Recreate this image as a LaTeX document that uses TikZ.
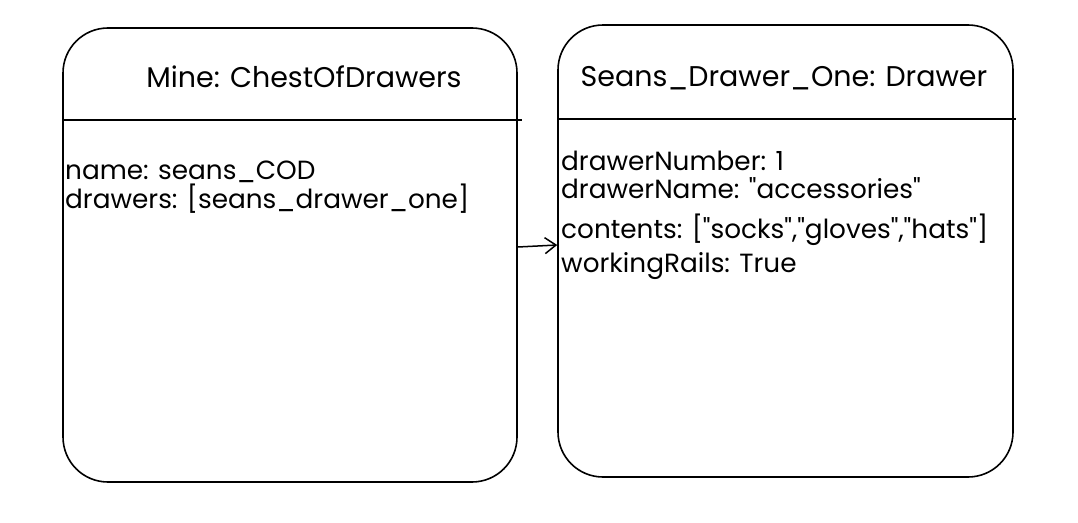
\documentclass[tikz,border=0pt]{standalone}
\usepackage{fontspec}
\newfontfamily\hand{Poppins}
\usetikzlibrary{arrows.meta}
\begin{document}
\begin{tikzpicture}[x=1pt,y=-1pt,
  box/.style={draw, line width=1.6pt, rounded corners=45pt, minimum width=#1, inner sep=0pt},
  ttl/.style={anchor=base, font=\hand\fontsize{28.5}{32}\selectfont},
  attr/.style={anchor=base west, inner sep=0pt, font=\hand\fontsize{26.3}{30}\selectfont},
  link/.style={line width=1.5pt, -{Straight Barb[length=11pt,width=16pt,line width=1.5pt]}}]
\useasboundingbox (0,0) rectangle (1078,522);
% boxes
\node[box=454pt, minimum height=454pt] (L) at (290,255) {};
\node[box=455pt, minimum height=452pt] (R) at (785.5,251) {};
% dividers
\coordinate (Ld1) at (63,120);
\coordinate (Ld2) at (522,120);
\coordinate (Rd1) at (558,119);
\coordinate (Rd2) at (1016,119);
\draw[line width=1.6pt] (Ld1) -- (Ld2);
\draw[line width=1.6pt] (Rd1) -- (Rd2);
% titles
\node[ttl] (Lt) at (304,87) {Mine: ChestOfDrawers};
\node[ttl] (Rt) at (784,86) {Seans\_Drawer\_One: Drawer};
% attributes
\node[attr] (a1) at (65,179) {name: seans\_COD};
\node[attr] (a2) at (65,208) {drawers: [seans\_drawer\_one]};
\node[attr] (b1) at (561,170) {drawerNumber: 1};
\node[attr] (b2) at (561,198) {drawerName: "accessories"};
\node[attr] (b3) at (561,238) {contents: ["socks","gloves","hats"]};
\node[attr] (b4) at (561,272) {workingRails: True};
% arrow
\draw[link] ([yshift=8pt]L.east) -- ([yshift=6pt]R.west);
\end{tikzpicture}
\end{document}
